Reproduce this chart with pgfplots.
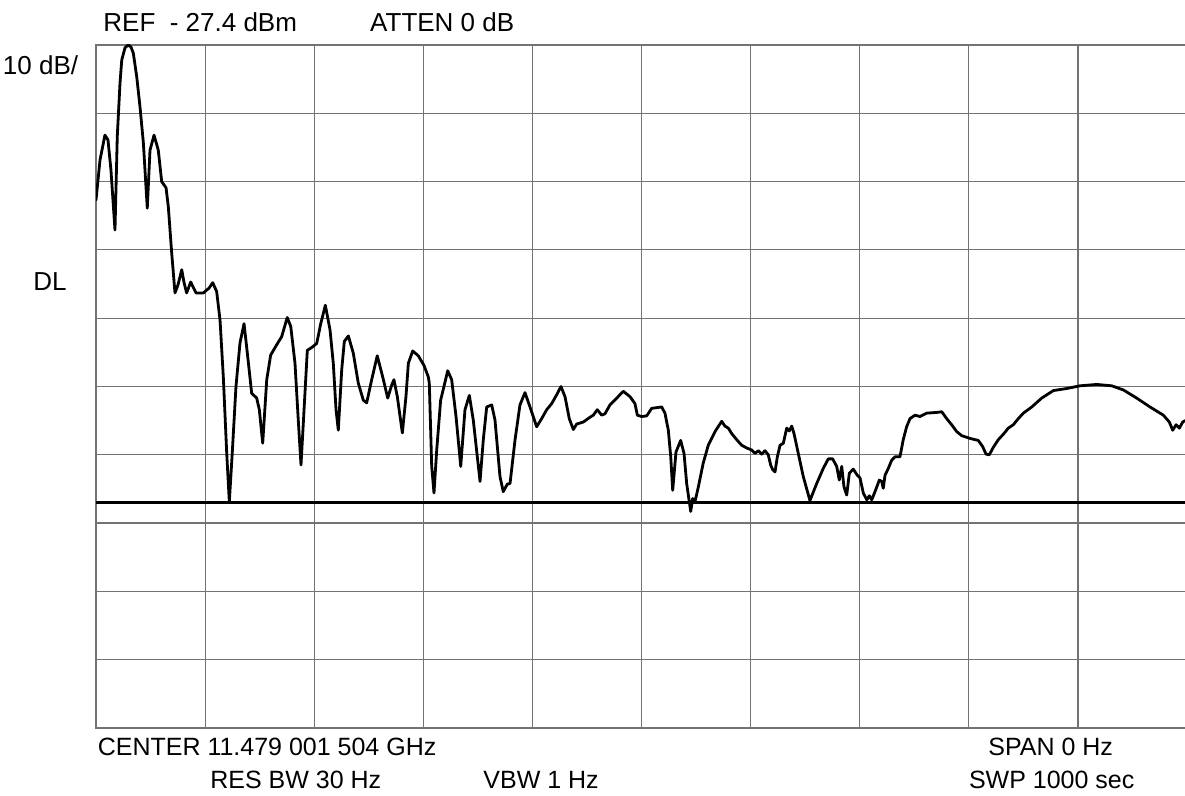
\documentclass[border=0pt]{standalone}
\usepackage{pgfplots}
\pgfplotsset{compat=1.18}
\usepackage{fontspec}
\setmainfont{Liberation Sans}
\begin{document}
\begin{tikzpicture}
\useasboundingbox (-48pt,-34pt) rectangle (544.5pt,364pt);
\begin{axis}[
  at={(0pt,0pt)}, anchor=south west,
  scale only axis, width=545.5pt, height=341.5pt,
  xmin=0, xmax=1000, ymin=-127.4, ymax=-27.4,
  xtick={0,100,200,300,400,500,600,700,800,900,1000},
  ytick={-127.4,-117.4,-107.4,-97.4,-87.4,-77.4,-67.4,-57.4,-47.4,-37.4,-27.4},
  xticklabels={}, yticklabels={},
  major tick length=0pt,
  grid=major,
  grid style={line width=0.6pt, color=black!55},
  axis line style={line width=0.6pt, color=black!55},
  clip=true,
]
% display line DL
\addplot[black, line width=1.3pt] coordinates {(0,-94.4) (1000,-94.4)};
% trace
\addplot[black, line width=1.4pt, line join=round, line cap=round] coordinates {
(0,-50.1)(3.7,-44.2)(8.2,-40.6)(11.0,-41.3)(13.7,-45.7)(17.4,-54.5)(19.5,-40.8)(22.0,-33.0)(23.6,-29.6)(26.6,-27.8)
(29.6,-27.4)(32.1,-27.7)(34.2,-28.6)(37.3,-32.0)(40.3,-36.4)(43.4,-41.7)(47.0,-51.3)(49.5,-42.8)(53.2,-40.6)(57.1,-42.8)
(60.2,-47.4)(64.2,-48.3)(66.3,-51.1)(69.4,-57.9)(72.4,-63.7)(75.2,-62.5)(78.6,-60.3)(80.7,-62.2)(83.1,-63.7)(86.8,-62.1)
(91.7,-63.7)(98.4,-63.7)(103.6,-63.0)(107.0,-62.2)(110.6,-63.5)(113.7,-67.7)(116.7,-76.0)(119.8,-87.1)(122.2,-94.3)(124.9,-87.1)
(128.3,-77.4)(132.0,-71.0)(135.7,-68.2)(138.7,-72.5)(142.7,-78.4)(147.3,-79.1)(149.7,-80.8)(152.8,-85.7)(156.5,-76.4)(160.1,-72.8)
(165.6,-71.3)(170.2,-70.1)(175.3,-67.3)(178.5,-68.6)(182.4,-74.0)(185.4,-82.3)(187.9,-88.9)(190.7,-80.8)(193.7,-72.1)(197.7,-71.7)
(202.3,-71.1)(206.0,-68.2)(210.2,-65.5)(214.5,-69.1)(217.5,-74.0)(220.0,-80.8)(222.1,-83.8)(225.2,-75.0)(227.6,-70.8)(231.3,-70.0)
(235.8,-72.5)(240.4,-76.9)(245.0,-79.4)(248.1,-79.8)(252.7,-76.4)(257.8,-72.9)(262.8,-76.0)(267.4,-79.1)(271.0,-77.2)(273.1,-76.4)
(276.2,-78.9)(280.8,-84.2)(284.1,-78.9)(286.3,-74.0)(290.3,-72.2)(295.4,-72.9)(300.6,-74.3)(304.6,-76.0)(305.5,-76.9)(307.7,-89.1)
(309.8,-93.0)(312.3,-86.7)(315.9,-79.4)(322.4,-75.1)(326.0,-76.4)(330.0,-81.8)(334.3,-89.1)(338.2,-80.8)(342.2,-78.7)(345.8,-82.3)
(352.0,-91.3)(355.0,-85.2)(358.1,-80.4)(362.7,-80.1)(365.7,-82.3)(370.3,-90.6)(373.3,-92.8)(377.0,-91.7)(379.5,-91.6)(384.1,-85.2)
(388.6,-80.1)(393.2,-78.3)(397.8,-80.4)(403.9,-83.3)(408.5,-82.1)(413.1,-80.8)(417.7,-79.9)(422.3,-78.6)(426.2,-77.4)(429.9,-78.9)
(433.8,-82.1)(437.5,-83.7)(440.6,-82.9)(446.7,-82.6)(452.8,-81.9)(455.8,-81.6)(459.5,-80.8)(463.5,-81.6)(466.5,-81.4)(471.1,-80.1)
(477.3,-79.1)(483.3,-78.1)(489.5,-78.9)(494.0,-79.9)(496.2,-81.6)(500.2,-81.8)(504.8,-81.7)(509.3,-80.6)(518.5,-80.4)(521.5,-81.3)
(524.6,-83.8)(526.8,-87.7)(528.6,-92.6)(531.6,-87.0)(535.9,-85.3)(539.0,-87.2)(541.4,-91.6)(545.1,-95.7)(546.9,-93.8)(549.0,-94.3)
(552.1,-92.1)(556.6,-88.6)(561.2,-86.0)(567.4,-84.0)(573.5,-82.5)(576.5,-83.2)(579.6,-83.5)(582.7,-84.3)(587.3,-85.2)(591.8,-86.0)
(596.4,-86.4)(601.0,-86.7)(604.0,-87.2)(607.1,-86.8)(610.2,-87.3)(613.2,-86.8)(616.2,-87.4)(618.4,-88.9)(620.3,-89.6)(622.4,-89.9)
(624.5,-87.7)(627.0,-86.0)(630.0,-85.7)(633.1,-83.5)(635.5,-83.9)(637.7,-83.2)(639.8,-84.3)(643.7,-87.2)(648.3,-90.6)(654.4,-94.1)
(660.6,-91.6)(666.6,-89.4)(671.2,-88.0)(675.2,-88.0)(678.9,-89.1)(681.3,-91.1)(683.5,-89.1)(685.6,-92.1)(688.1,-93.3)(690.5,-90.1)
(694.1,-89.5)(697.8,-90.4)(700.3,-90.8)(703.3,-93.0)(706.5,-94.0)(708.8,-93.4)(711.0,-94.0)(714.0,-92.8)(718.0,-91.1)(720.2,-91.3)
(721.6,-92.3)(723.2,-90.4)(726.2,-89.4)(729.3,-88.2)(732.3,-87.7)(736.9,-87.7)(739.9,-85.2)(743.0,-83.3)(746.1,-82.1)(750.7,-81.6)
(755.3,-81.8)(761.4,-81.3)(770.6,-81.2)(775.2,-81.1)(779.7,-82.1)(784.3,-83.0)(788.9,-84.0)(793.5,-84.6)(801.1,-85.0)(808.7,-85.3)
(812.7,-86.2)(815.8,-87.3)(818.8,-87.4)(822.5,-86.3)(827.0,-85.2)(831.6,-84.4)(836.2,-83.5)(840.8,-83.0)(845.4,-82.1)(850.0,-81.3)
(857.7,-80.4)(866.8,-79.1)(877.5,-78.0)(889.7,-77.7)(901.9,-77.3)(917.2,-77.1)(931.0,-77.3)(941.6,-77.9)(953.9,-79.1)(966.1,-80.4)
(978.3,-81.6)(983.8,-82.6)(986.9,-83.8)(990.0,-83.0)(993.0,-83.5)(996.1,-82.6)(998.2,-82.4)
};
\end{axis}
\begin{scope}[every node/.style={inner sep=0pt, font=\fontsize{13}{15}\selectfont}]
\node[anchor=west] at (3.5pt,353pt) {REF\ \ - 27.4 dBm};
\node[anchor=west] at (136.9pt,353pt) {ATTEN 0 dB};
\node[anchor=east] at (-8.75pt,331.5pt) {10 dB/};
\node[anchor=center] at (-23pt,223pt) {DL};
\end{scope}
\begin{scope}[every node/.style={inner sep=0pt, font=\fontsize{12.5}{15}\selectfont}]
\node[anchor=west] at (0.7pt,-9.5pt) {CENTER 11.479 001 504 GHz};
\node[anchor=west] at (57pt,-26pt) {RES BW 30 Hz};
\node[anchor=west] at (193.5pt,-26pt) {VBW 1 Hz};
\node[anchor=west] at (446pt,-9.5pt) {SPAN 0 Hz};
\node[anchor=west] at (436.3pt,-26pt) {SWP 1000 sec};
\end{scope}
\end{tikzpicture}
\end{document}
